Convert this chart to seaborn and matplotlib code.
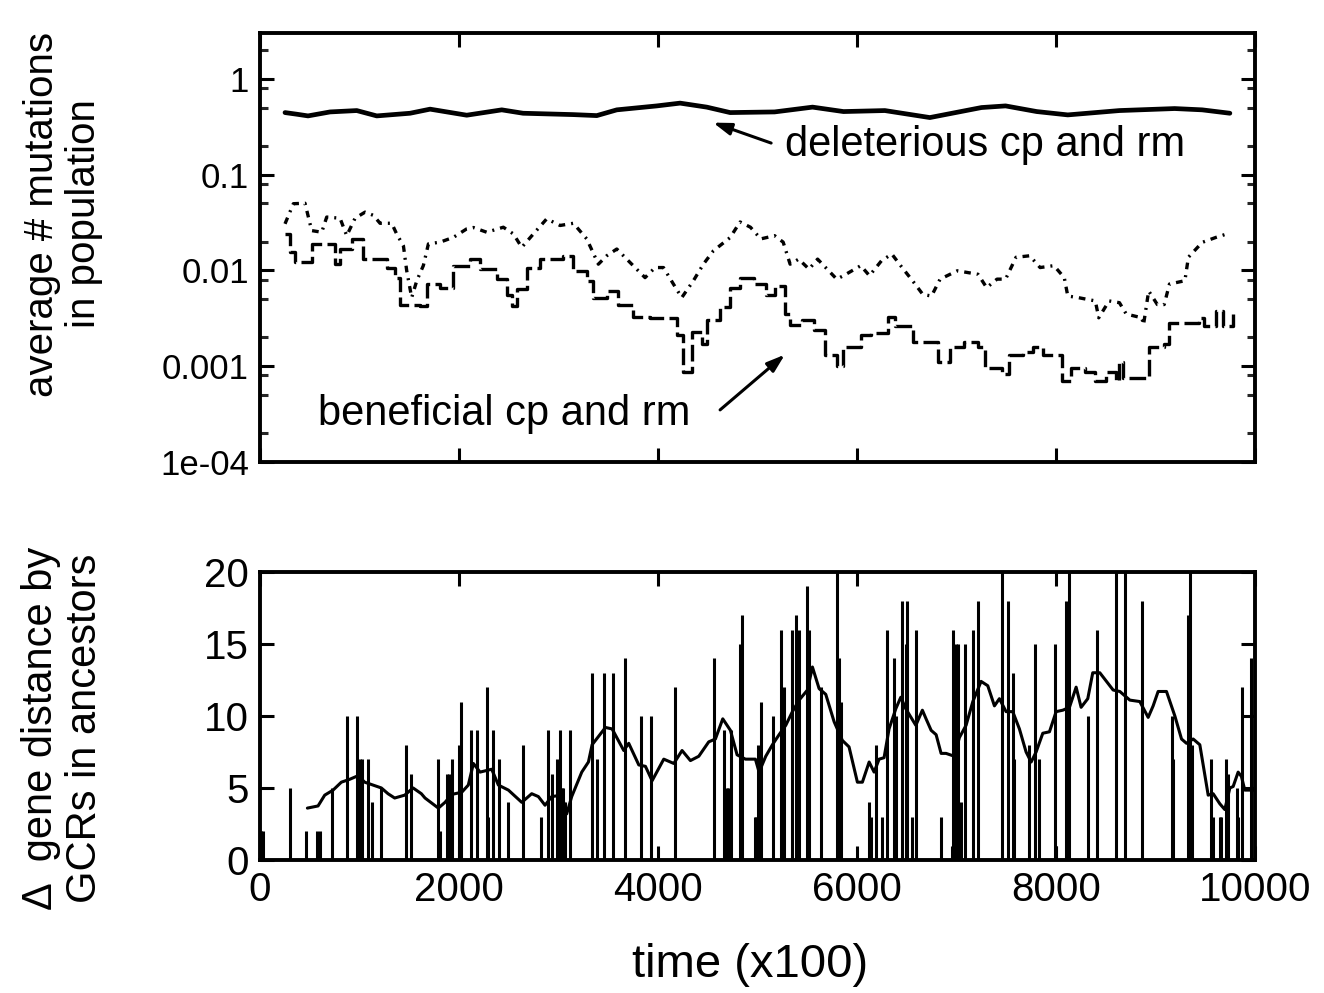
import numpy as np
import pandas as pd
import matplotlib
matplotlib.use("Agg")
import matplotlib.pyplot as plt
import matplotlib.ticker as mticker
import seaborn as sns

# ---------------- data ----------------
# top panel: average number of mutations in population
del_t = [251, 369, 482, 704, 972, 1173, 1508, 1709, 2077, 2429, 2643, 3146, 3384, 3585,
         3987, 4221, 4489, 4724, 5171, 5552, 5863, 6279, 6731, 7250, 7492, 7805, 8117,
         8636, 9191, 9468, 9746]
del_v = [0.443, 0.426, 0.409, 0.45, 0.465, 0.409, 0.436, 0.481, 0.416, 0.473, 0.436, 0.422,
         0.412, 0.473, 0.52, 0.556, 0.505, 0.443, 0.45, 0.505, 0.454, 0.465, 0.393, 0.5,
         0.52, 0.454, 0.419, 0.465, 0.488, 0.473, 0.436]

ben1_t = [251, 335, 452, 519, 620, 670, 804, 871, 955, 1055, 1139, 1206, 1323, 1373, 1441,
          1474, 1524, 1575, 1641, 1692, 1809, 1943, 2077, 2144, 2278, 2445, 2546, 2630,
          2747, 2881, 3015, 3149, 3283, 3400, 3484, 3585, 3685, 3869, 3970, 4054, 4154,
          4238, 4355, 4455, 4556, 4724, 4824, 4928, 5032, 5171, 5257, 5327, 5413, 5517,
          5603, 5795, 5863, 6037, 6124, 6245, 6349, 6452, 6557, 6661, 6748, 6834, 7007,
          7215, 7302, 7406, 7492, 7597, 7735, 7839, 7978, 8082, 8117, 8220, 8394, 8428,
          8532, 8636, 8705, 8861, 8878, 8930, 9017, 9086, 9139, 9294, 9329, 9468, 9607, 9738]
ben1_v = [0.0306, 0.0496, 0.0502, 0.026, 0.025, 0.036, 0.035, 0.023, 0.035, 0.0405, 0.0375,
          0.031, 0.031, 0.024, 0.018, 0.0099, 0.0052, 0.0078, 0.0112, 0.0189, 0.0197, 0.0221,
          0.0271, 0.028, 0.025, 0.0282, 0.024, 0.0174, 0.024, 0.0345, 0.0294, 0.031, 0.0213,
          0.0116, 0.0142, 0.0167, 0.0131, 0.0084, 0.0107, 0.0107, 0.0072, 0.0052, 0.0078,
          0.0116, 0.016, 0.022, 0.032, 0.0282, 0.0213, 0.023, 0.0197, 0.0116, 0.0131, 0.0103,
          0.0131, 0.0081, 0.0088, 0.0112, 0.0088, 0.0126, 0.0148, 0.0107, 0.0078, 0.0056,
          0.0054, 0.0081, 0.0099, 0.0091, 0.0066, 0.0081, 0.0081, 0.0137, 0.0142, 0.0107,
          0.0112, 0.0084, 0.0054, 0.0052, 0.0048, 0.0032, 0.0048, 0.0046, 0.0035, 0.0032,
          0.0027, 0.0061, 0.0044, 0.0044, 0.0072, 0.0078, 0.0137, 0.0196, 0.0221, 0.0244]

ben2_t = [251, 302, 352, 469, 519, 703, 754, 804, 921, 1038, 1206, 1273, 1357, 1407, 1608,
          1675, 1809, 1943, 2111, 2211, 2379, 2479, 2530, 2580, 2680, 2814, 3049, 3149,
          3283, 3350, 3484, 3601, 3752, 3920, 4087, 4188, 4254, 4305, 4338, 4439, 4489,
          4623, 4724, 4824, 4963, 5084, 5171, 5275, 5327, 5448, 5569, 5674, 5795, 5863,
          6037, 6141, 6315, 6383, 6557, 6695, 6817, 6938, 7076, 7215, 7285, 7457, 7527,
          7666, 7770, 7873, 8047, 8064, 8151, 8290, 8394, 8497, 8602, 8636, 8671, 8913,
          8930, 9086, 9139, 9329, 9433, 9485, 9607, 9676, 9780]
ben2_v = [0.024, 0.0154, 0.0121, 0.0121, 0.0189, 0.0189, 0.0116, 0.0167, 0.0213, 0.0131,
          0.0131, 0.0107, 0.0084, 0.0044, 0.0042, 0.0072, 0.0066, 0.0112, 0.0131, 0.0103,
          0.0081, 0.0056, 0.0042, 0.0064, 0.0107, 0.0131, 0.0142, 0.0099, 0.0078, 0.0052,
          0.0061, 0.0044, 0.0033, 0.0032, 0.0032, 0.0021, 0.00088, 0.00088, 0.0023, 0.0017,
          0.003, 0.0041, 0.0066, 0.0084, 0.0072, 0.0056, 0.0069, 0.0035, 0.0027, 0.003,
          0.0024, 0.0013, 0.001, 0.0016, 0.0021, 0.0022, 0.0033, 0.0026, 0.0018, 0.0018,
          0.0011, 0.0016, 0.0018, 0.0016, 0.00096, 0.00082, 0.0013, 0.0014, 0.0016, 0.0013,
          0.0013, 0.0007, 0.00096, 0.00088, 0.0007, 0.00088, 0.0007, 0.0011, 0.00075,
          0.00075, 0.0016, 0.0017, 0.0028, 0.0028, 0.0032, 0.0026, 0.0038, 0.0026, 0.0035]

# bottom panel: gene distance changes by GCRs (impulses) and running average
gcr_t = [10, 30, 305, 460, 575, 600, 725, 875, 975, 1000, 1025, 1080, 1125, 1220, 1470, 1520,
         1790, 1810, 1875, 1895, 1925, 2000, 2020, 2125, 2185, 2280, 2295, 2345, 2405, 2495,
         2640, 2825, 2890, 2930, 2980, 3015, 3030, 3045, 3060, 3110, 3335, 3385, 3455, 3550,
         3665, 3830, 3930, 4175, 4560, 4665, 4690, 4705, 4720, 4735, 4820, 4845, 4970, 4985,
         5000, 5030, 5150, 5235, 5265, 5350, 5390, 5415, 5500, 5520, 5635, 5795, 5820, 5835,
         6120, 6135, 6190, 6255, 6305, 6370, 6395, 6455, 6490, 6505, 6555, 6590, 6845, 6950,
         6960, 6970, 6995, 7010, 7045, 7085, 7165, 7215, 7455, 7515, 7565, 7580, 7725, 7790,
         7830, 7985, 8000, 8100, 8125, 8320, 8410, 8605, 8690, 8865, 9160, 9175, 9325, 9350,
         9365, 9560, 9575, 9645, 9660, 9710, 9730, 9820, 9830, 9870, 9960]
gcr_v = [2, 2, 5, 2, 2, 2, 5, 10, 10, 7, 7, 7, 4, 5, 8, 6,
         7, 2, 6, 6, 7, 8, 11, 9, 9, 12, 3, 9, 7, 4,
         8, 3, 9, 6, 7, 9, 5, 5, 4, 9, 13, 7, 13, 13,
         14, 10, 10, 12, 14, 9, 5, 5, 4, 9, 15, 17, 3, 3,
         8, 11, 10, 16, 12, 16, 17, 16, 19, 16, 12, 22, 14, 11,
         4, 3, 8, 3, 16, 14, 10, 18, 15, 18, 3, 16, 3, 1,
         16, 1, 15, 15, 4, 15, 16, 18, 22, 18, 13, 7, 8, 15,
         7, 15, 1, 18, 22, 10, 16, 22, 22, 18, 10, 7, 17, 22,
         8, 7, 3, 3, 3, 7, 6, 5, 3, 12, 14]

avg_t = [476, 583, 650, 734, 817, 901, 985, 1052, 1136, 1219, 1286, 1353, 1454, 1538, 1621,
         1658, 1792, 1859, 1926, 2027, 2093, 2144, 2211, 2328, 2395, 2496, 2630, 2730, 2797,
         2864, 2931, 3032, 3082, 3132, 3233, 3300, 3337, 3471, 3538, 3655, 3705, 3806, 3873,
         3940, 4057, 4158, 4241, 4325, 4409, 4509, 4576, 4650, 4727, 4794, 4878, 4978, 5015,
         5082, 5149, 5216, 5283, 5350, 5417, 5501, 5551, 5618, 5685, 5769, 5852, 5919, 6003,
         6053, 6121, 6171, 6221, 6271, 6321, 6389, 6439, 6489, 6590, 6656, 6693, 6744, 6794,
         6844, 6894, 6978, 7028, 7095, 7163, 7246, 7313, 7380, 7430, 7497, 7564, 7631, 7698,
         7749, 7799, 7866, 7933, 8000, 8067, 8134, 8201, 8251, 8318, 8368, 8439, 8506, 8573,
         8640, 8741, 8841, 8925, 8975, 9025, 9109, 9193, 9260, 9310, 9377, 9444, 9528, 9578,
         9645, 9695, 9746, 9779, 9829, 9862, 9896, 9997]
avg_v = [3.6, 3.75, 4.5, 4.85, 5.4, 5.6, 5.85, 5.4, 5.2, 5.0, 4.6, 4.3, 4.5, 5.0, 4.6,
         4.3, 3.6, 4.0, 4.55, 4.7, 5.2, 6.7, 6.1, 6.3, 5.2, 4.85, 4.0, 4.6, 4.4,
         3.8, 4.4, 4.5, 3.2, 4.4, 6.1, 6.8, 8.0, 9.2, 9.1, 7.6, 8.1, 6.6, 6.5,
         5.5, 7.0, 6.7, 7.6, 6.9, 7.2, 8.2, 8.4, 9.8, 9.0, 7.3, 7.0, 7.0, 6.1,
         7.2, 8.0, 8.7, 9.35, 10.3, 11.1, 11.8, 13.4, 11.9, 11.5, 9.6, 8.3, 7.85, 5.4,
         5.4, 6.8, 6.1, 7.0, 7.1, 9.1, 10.5, 11.3, 10.5, 9.35, 10.4, 9.8, 9.0, 8.7,
         7.4, 7.4, 7.2, 8.5, 9.35, 11.0, 12.4, 12.1, 10.7, 11.2, 10.3, 10.3, 9.1, 7.5,
         6.8, 7.5, 8.8, 8.9, 10.3, 10.4, 10.6, 12.0, 10.6, 11.2, 13.0, 13.0, 12.4, 11.8,
         11.7, 11.1, 11.0, 9.9, 10.7, 11.7, 11.7, 10.0, 8.4, 8.1, 8.4, 8.0, 4.5, 4.6,
         3.9, 3.5, 5.0, 5.1, 6.1, 5.8, 4.85, 4.85]

top_yticks = [1e-4, 1e-3, 1e-2, 1e-1, 1]
top_yticklabels = ["1e-04", "0.001", "0.01", "0.1", "1"]
x_ticks = [0, 2000, 4000, 6000, 8000, 10000]
bot_yticks = [0, 5, 10, 15, 20]

# ---------------- style ----------------
sns.set_theme(style="white")
plt.rcParams["font.family"] = ["Liberation Sans", "DejaVu Sans"]
plt.rcParams["text.color"] = "black"
plt.rcParams["axes.labelcolor"] = "black"

TOP_TICK_FS = 25
BOT_TICK_FS = 29
TOP_LABEL_FS = 29
BOT_LABEL_FS = 30
XLABEL_FS = 34
ANN_FS = 30

fig = plt.figure(figsize=(13.24, 9.93), dpi=100)
ax1 = fig.add_axes([0.1964, 0.5347, 0.7516, 0.4321])
ax2 = fig.add_axes([0.1964, 0.134, 0.7516, 0.290])

def style_axes(ax, fs):
    for s in ax.spines.values():
        s.set_linewidth(2.8)
        s.set_color("black")
    ax.tick_params(which="major", direction="in", length=10, width=2.2,
                   top=True, right=True, bottom=True, left=True,
                   labelsize=fs, colors="black", pad=8)
    ax.tick_params(which="minor", direction="in", length=5.5, width=2.2,
                   top=True, right=True, bottom=True, left=True)

# ---------------- top panel ----------------
df_del = pd.DataFrame({"t": del_t, "v": del_v})
df_b1 = pd.DataFrame({"t": ben1_t, "v": ben1_v})
df_b2 = pd.DataFrame({"t": ben2_t, "v": ben2_v})

sns.lineplot(data=df_del, x="t", y="v", ax=ax1, color="black", lw=3.4, sort=False)
sns.lineplot(data=df_b1, x="t", y="v", ax=ax1, color="black", lw=2.4, sort=False,
             linestyle=(0, (2.0, 1.8, 0.6, 1.8)))
sns.lineplot(data=df_b2, x="t", y="v", ax=ax1, color="black", lw=2.4, sort=False,
             linestyle=(0, (5, 1.6)), drawstyle="steps-post")

ax1.set_yscale("log")
ax1.set_xlim(0, 10000)
ax1.set_ylim(1e-4, 3.0)
ax1.set_yticks(top_yticks)
ax1.set_yticklabels(top_yticklabels)
ax1.yaxis.set_minor_locator(mticker.LogLocator(base=10, subs=[2, 5, 8]))
ax1.yaxis.set_minor_formatter(mticker.NullFormatter())
ax1.set_xticks(x_ticks)
ax1.set_xticklabels([])
ax1.set_xlabel("")
ax1.set_ylabel("")
style_axes(ax1, TOP_TICK_FS)

ax1.annotate("", xy=(4553, 0.348), xytext=(5136, 0.213),
             arrowprops=dict(arrowstyle="-|>,head_length=0.9,head_width=0.3",
                             color="black", lw=2.2, shrinkA=0, shrinkB=0))
ax1.text(5276, 0.203, "deleterious cp and rm", fontsize=ANN_FS, ha="left", va="center")
ax1.annotate("", xy=(5274, 0.00132), xytext=(4623, 0.00035),
             arrowprops=dict(arrowstyle="-|>,head_length=0.9,head_width=0.3",
                             color="black", lw=2.2, shrinkA=0, shrinkB=0))
ax1.text(583, 0.00032, "beneficial cp and rm", fontsize=ANN_FS, ha="left", va="center")

# ---------------- bottom panel ----------------
df_avg = pd.DataFrame({"t": avg_t, "v": avg_v})
ax2.vlines(gcr_t, 0, gcr_v, color="black", lw=2.2)
sns.lineplot(data=df_avg, x="t", y="v", ax=ax2, color="black", lw=2.2, sort=False)
ax2.set_xlim(0, 10000)
ax2.set_ylim(0, 20)
ax2.set_xticks(x_ticks)
ax2.set_xticklabels([str(x) for x in x_ticks])
ax2.set_yticks(bot_yticks)
ax2.set_yticklabels([str(y) for y in bot_yticks])
ax2.set_xlabel("")
ax2.set_ylabel("")
style_axes(ax2, BOT_TICK_FS)

# ---------------- labels ----------------
fig.text(63 / 1324, 1 - 214 / 993, "average # mutations\nin population",
         rotation=90, ha="center", va="center", multialignment="center",
         fontsize=TOP_LABEL_FS, linespacing=1.12)
fig.text(63 / 1324, 1 - 728 / 993, "\u0394  gene distance by\nGCRs in ancestors",
         rotation=90, ha="center", va="center", multialignment="center",
         fontsize=BOT_LABEL_FS, linespacing=1.1)
fig.text(750 / 1324, 1 - 965 / 993, "time (x100)", ha="center", va="center",
         fontsize=XLABEL_FS)

fig.savefig("out.png", dpi=100, facecolor="white")
